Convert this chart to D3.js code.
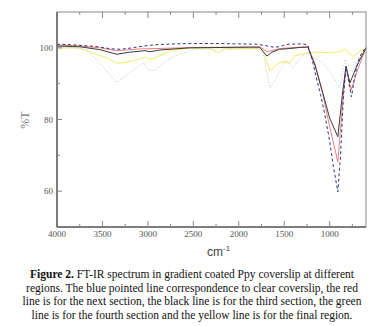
<!DOCTYPE html>
<html lang="en">
<head>
<meta charset="UTF-8">
<title>FT-IR spectrum</title>
<script src="https://d3js.org/d3.v7.min.js"></script>
<style>
  body { margin: 0; background: #fff; }
  svg { display: block; }
  .tick-label { font-family: "Liberation Serif", serif; font-size: 9px; fill: #555; }
  .caption { font-family: "Liberation Serif", serif; font-size: 11.5px; fill: #111; }
</style>
</head>
<body>
<svg id="chart" width="384" height="326"></svg>
<script>
// x tick labels (wavenumber, cm-1) and y tick labels (%T)
const xTicks = [4000, 3500, 3000, 2500, 2000, 1500, 1000];
const yTicks = [60, 80, 100];

// each series: [wavenumber, %T]
const blueSeries = [
  [4000, 101.0], [3850, 100.9], [3700, 100.6], [3550, 100.3], [3400, 99.7], [3300, 99.6],
  [3200, 99.9], [3050, 100.5], [2900, 100.9], [2700, 101.1], [2500, 101.2], [2200, 101.2],
  [2000, 101.1], [1800, 101.0], [1700, 100.6], [1600, 100.1], [1520, 100.6], [1450, 101.0],
  [1300, 101.1], [1240, 100.8], [1190, 96.5], [1150, 92], [1100, 87], [1050, 81],
  [1000, 74], [960, 67], [910, 59.8], [880, 70], [850, 86], [820, 94.6], [790, 90.5],
  [760, 86.3], [730, 91], [690, 96], [640, 99], [600, 99.8]
];
const redSeries = [
  [4000, 100.8], [3750, 100.5], [3530, 100.0], [3340, 99.2], [3090, 99.7], [2760, 99.9],
  [2500, 100.1], [1880, 100.2], [1760, 100.2], [1690, 98.9], [1550, 99.8], [1330, 100.2],
  [1240, 100.3], [1160, 95.5], [1075, 87], [1000, 78], [910, 68.2], [855, 85],
  [820, 94.7], [765, 88.2], [690, 94], [600, 100]
];
const blackSeries = [
  [4000, 100.5], [3750, 100.3], [3530, 99.5], [3340, 98.2], [3200, 98.8], [3030, 99.2],
  [2980, 98.9], [2870, 99.4], [2540, 100.0], [1880, 100.2], [1770, 100.2], [1690, 97.7],
  [1635, 98.8], [1550, 99.6], [1440, 99.8], [1330, 100.1], [1240, 100.2], [1160, 95],
  [1075, 87.4], [1000, 80.4], [910, 75.2], [855, 88], [820, 94.9], [777, 90.2],
  [700, 95], [600, 100]
];
const greenSeries = [
  [4000, 100.3], [3800, 100.0], [3670, 99.4], [3530, 95.8], [3420, 92.5], [3340, 90.3],
  [3200, 93], [3055, 95.8], [2990, 93.8], [2920, 93.7], [2790, 96.6], [2650, 98.3],
  [2480, 99.6], [2210, 99.7], [1770, 99.7], [1735, 99], [1690, 93], [1657, 88.8],
  [1600, 91], [1480, 96.6], [1405, 94.4], [1330, 97], [1250, 98.6], [1160, 97.2],
  [1075, 95.8], [1000, 93.5], [920, 90.2], [887, 88.8], [832, 96.8], [755, 93.3],
  [690, 96.5], [600, 100]
];
const yellowSeries = [
  [4000, 99.9], [3750, 100.0], [3640, 98.8], [3450, 97.2], [3340, 95.7], [3250, 95.9],
  [3140, 96.5], [3030, 97.4], [2955, 96.8], [2870, 97.8], [2760, 99.2], [2540, 99.9],
  [2320, 99.9], [2230, 98.6], [2150, 99.7], [1770, 99.9], [1725, 98.5], [1657, 93.6],
  [1570, 95.5], [1515, 96.1], [1440, 95.8], [1380, 97.8], [1240, 98.6], [1110, 98.8],
  [1000, 98.6], [890, 98.9], [832, 99.6], [745, 97.6], [600, 100.2]
];

const series = [
  { data: yellowSeries, color: "#f5ea66", width: 1, dash: null },
  { data: greenSeries, color: "#b3cfbb", width: 0.9, dash: "1.2,1.6" },
  { data: redSeries, color: "#e67272", width: 0.9, dash: null },
  { data: blackSeries, color: "#3a3a3a", width: 1, dash: null },
  { data: blueSeries, color: "#33348a", width: 1, dash: "3,2.5" }
];

const plot = { left: 57, right: 366, top: 12, bottom: 227 };
const svg = d3.select("#chart");

const x = d3.scaleLinear().domain([4000, 600]).range([plot.left, plot.right]);
const y = d3.scaleLinear().domain([50, 110]).range([plot.bottom, plot.top]);

const axisColor = "#888";

// lines
const line = d3.line().x(d => x(d[0])).y(d => y(d[1])).curve(d3.curveLinear);
series.forEach(s => {
  svg.append("path")
    .datum(s.data)
    .attr("fill", "none")
    .attr("stroke", s.color)
    .attr("stroke-width", s.width)
    .attr("stroke-dasharray", s.dash)
    .attr("stroke-linejoin", "round")
    .attr("d", line);
});

// frame
svg.append("rect")
  .attr("x", plot.left).attr("y", plot.top)
  .attr("width", plot.right - plot.left).attr("height", plot.bottom - plot.top)
  .attr("fill", "none").attr("stroke", axisColor).attr("stroke-width", 1);
svg.append("line")
  .attr("x1", plot.left).attr("x2", plot.left)
  .attr("y1", plot.top).attr("y2", plot.bottom)
  .attr("stroke", "#666").attr("stroke-width", 1.5);
svg.append("line")
  .attr("x1", plot.left).attr("x2", plot.right)
  .attr("y1", plot.bottom).attr("y2", plot.bottom)
  .attr("stroke", "#666").attr("stroke-width", 1.5);

// x ticks, inward, bottom and top
const xMinor = d3.range(3750, 600, -250);
xMinor.forEach(v => {
  const major = v % 500 === 0;
  const len = major ? 6 : 3;
  [[plot.bottom, -len], [plot.top, len]].forEach(([yy, d]) => {
    svg.append("line")
      .attr("x1", x(v)).attr("x2", x(v))
      .attr("y1", yy).attr("y2", yy + d)
      .attr("stroke", axisColor).attr("stroke-width", 1);
  });
});

svg.selectAll(".xlab").data(xTicks).join("text")
  .attr("class", "tick-label")
  .attr("x", d => x(d)).attr("y", plot.bottom + 10)
  .attr("text-anchor", "middle")
  .text(d => d);

// y ticks, inward
[60, 70, 80, 90, 100].forEach(v => {
  const len = v % 20 === 0 ? 5 : 3;
  svg.append("line")
    .attr("x1", plot.left).attr("x2", plot.left + len)
    .attr("y1", y(v)).attr("y2", y(v))
    .attr("stroke", axisColor).attr("stroke-width", 1);
});

svg.selectAll(".ylab").data(yTicks).join("text")
  .attr("class", "tick-label")
  .attr("x", plot.left - 4).attr("y", d => y(d) + 3)
  .attr("text-anchor", "end")
  .text(d => d);

// axis titles
svg.append("text")
  .attr("transform", "translate(29,120) rotate(-90)")
  .attr("text-anchor", "middle")
  .attr("font-family", "Liberation Serif, serif")
  .attr("font-size", 12)
  .attr("fill", "#777")
  .text("%T");

const xt = svg.append("text")
  .attr("x", 207).attr("y", 256)
  .attr("font-family", "Liberation Sans, Arial, sans-serif")
  .attr("font-size", 12)
  .attr("fill", "#444");
xt.append("tspan").text("cm");
xt.append("tspan").attr("font-size", 8).attr("dy", -5).text("-1");

// caption
const captionLines = [
  ["Figure 2.", " FT-IR spectrum in gradient coated Ppy coverslip at different"],
  ["", "regions. The blue pointed line correspondence to clear coverslip, the red"],
  ["", "line is for the next section, the black line is for the third section, the green"],
  ["", "line is for the fourth section and the yellow line is for the final region."]
];
captionLines.forEach((ln, i) => {
  const t = svg.append("text")
    .attr("class", "caption")
    .attr("x", 192).attr("y", 278 + i * 13.6)
    .attr("text-anchor", "middle");
  if (ln[0]) t.append("tspan").attr("font-weight", "bold").text(ln[0]);
  t.append("tspan").text(ln[1]);
});
</script>
</body>
</html>
